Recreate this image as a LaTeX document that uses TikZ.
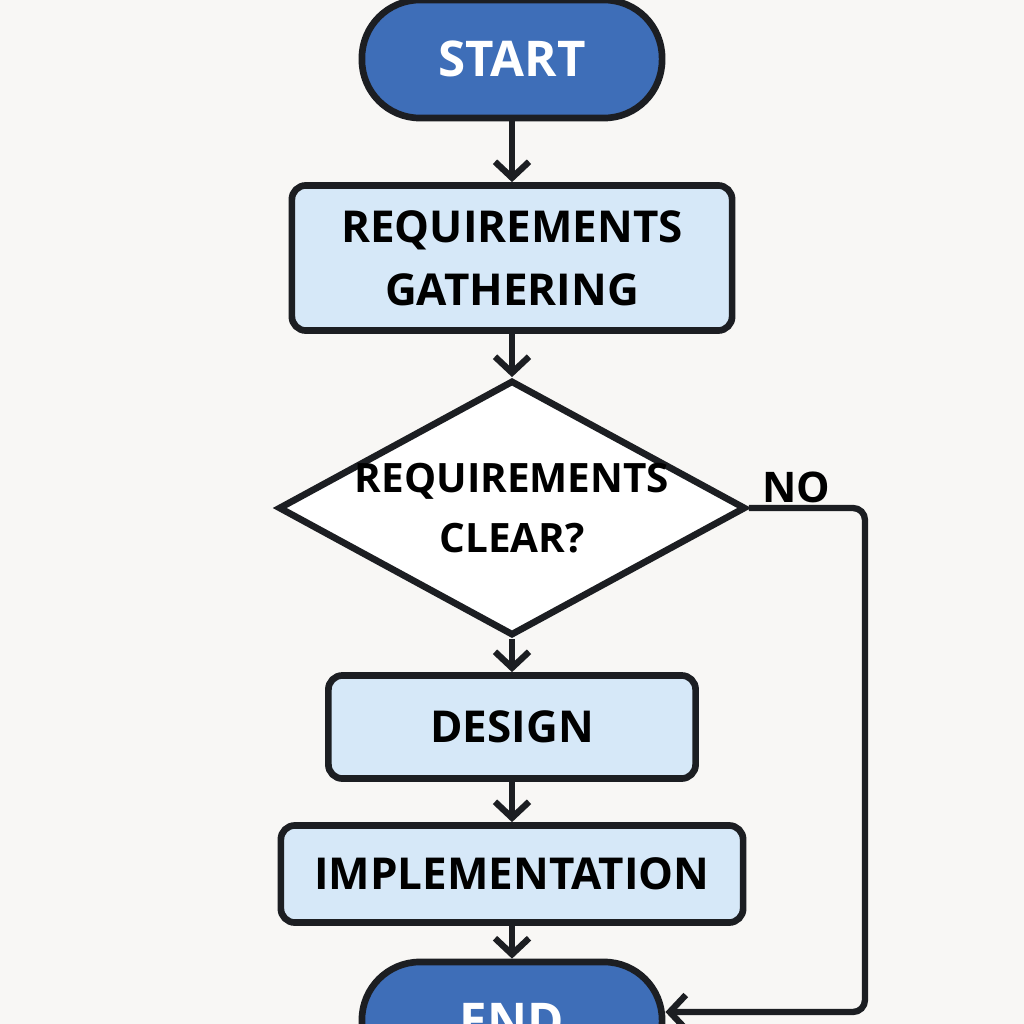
\documentclass[tikz,border=0pt]{standalone}
\usepackage{fontspec}
\setmainfont{Open Sans}
\usetikzlibrary{arrows.meta,positioning,shapes.geometric}
\definecolor{bgcol}{RGB}{248,247,245}
\definecolor{termcol}{RGB}{62,110,184}
\definecolor{stepcol}{RGB}{214,232,248}
\definecolor{linecol}{RGB}{28,30,34}
\tikzset{
  base/.style={draw=linecol, line width=1.9pt, font=\bfseries\fontsize{12.5}{18}\selectfont, align=center, inner sep=0pt},
  term/.style={base, fill=termcol, text=white, rounded corners=0.58cm, minimum width=3cm, minimum height=1.18cm, font=\bfseries\fontsize{14}{18}\selectfont},
  procbox/.style={base, fill=stepcol, rounded corners=0.14cm},
  decide/.style={base, fill=white, diamond, aspect=1.83, minimum width=4.67cm, minimum height=2.55cm},
  flow/.style={draw=linecol, line width=1.8pt, -{Straight Barb[length=1.6mm,width=3.4mm]}}
}
\begin{document}
\begin{tikzpicture}[x=0.01cm,y=-0.01cm]
\path[use as bounding box, fill=bgcol] (0,0) rectangle (1024,1024);
\begin{scope}
\clip (0,0) rectangle (1024,1024);
\node[term] (start) at (512,59) {START};
\node[procbox, minimum width=4.4cm, minimum height=1.45cm] (req) at (512,258) {REQUIREMENTS\\GATHERING};
\node[decide] (clear) at (512,508) {};
\node[font=\bfseries\fontsize{11.5}{17}\selectfont, align=center] (cleartxt) at (clear.center) {REQUIREMENTS\\CLEAR?};
\node[procbox, minimum width=3.67cm, minimum height=1.03cm] (design) at (512,727) {DESIGN};
\node[procbox, minimum width=4.62cm, minimum height=0.97cm] (impl) at (512,874) {IMPLEMENTATION};
\node[term] (end) at (512,1021) {END};
\coordinate (turn) at (865,1012);
\draw[flow] (start) -- (req);
\draw[flow] (req) -- (clear);
\draw[flow] (clear) -- (design);
\draw[flow] (design) -- (impl);
\draw[flow] (impl) -- (end);
\draw[flow, rounded corners=0.12cm] (clear.east) -| (turn) -- (end.east |- turn);
\node[font=\bfseries\fontsize{12}{14}\selectfont] (no) at (796,487) {NO};
\end{scope}
\end{tikzpicture}
\end{document}
